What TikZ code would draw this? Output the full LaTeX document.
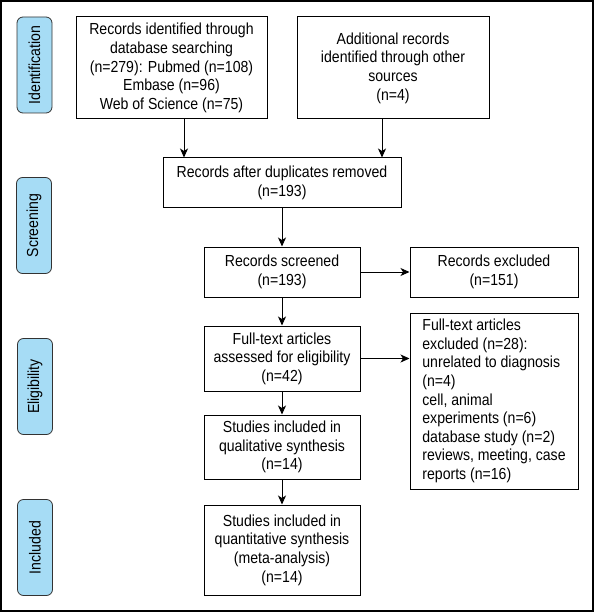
\documentclass[tikz,border=0pt]{standalone}
\usepackage{fontspec}
\setmainfont{Liberation Sans}[FakeStretch=0.88]
\usepackage{tikz}
\usetikzlibrary{arrows.meta}
\definecolor{stageblue}{RGB}{166,220,245}
\tikzset{
box/.style={draw, line width=1pt, align=center, inner sep=2pt,
  font=\fontsize{16}{18.6}\selectfont},
stage/.style={draw=black!80, fill=stageblue, rounded corners=6pt, line width=0.8pt,
  rotate=90, minimum width=96pt, minimum height=35pt, inner sep=0pt,
  font=\fontsize{16}{18}\selectfont},
arr/.style={line width=1pt, -{Stealth[length=9pt,width=8pt,inset=2.5pt]}}}

\begin{document}
\begin{tikzpicture}[x=1pt, y=-1pt]

    \useasboundingbox (0,0) rectangle (594,612);
    \draw[line width=1.5pt] (1,1) rectangle (593,611);

    % stages
    \node[stage] (ident) at (34.5,65) {Identification};
    \node[stage] (screen) at (34,225.5) {Screening};
    \node[stage] (elig) at (35,386.5) {Eligibility};
    \node[stage] (incl) at (35,547.5) {Included};

    % boxes
    \node[box, minimum width=191pt, minimum height=102pt] (dbase) at (171.5,68)
        {Records identified through\\database searching\\(n=279): Pubmed (n=108)\\Embase (n=96)\\Web of Science (n=75)};
    \node[box, minimum width=192pt, minimum height=102pt] (other) at (393,68)
        {Additional records\\identified through other\\sources\\(n=4)};
    \node[box, minimum width=238pt, minimum height=50pt] (dup) at (282,183)
        {Records after duplicates removed\\(n=193)};
    \node[box, minimum width=156pt, minimum height=50pt] (screened) at (282,272)
        {Records screened\\(n=193)};
    \node[box, minimum width=168pt, minimum height=50pt] (excl) at (494,272)
        {Records excluded\\(n=151)};
    \node[box, minimum width=156pt, minimum height=65pt] (full) at (282,358.5)
        {Full-text articles\\assessed for eligibility\\(n=42)};
    \node[box, align=left, minimum width=168pt, minimum height=176pt] (fullexcl) at (494,401)
        {Full-text articles\\excluded (n=28):\\unrelated to diagnosis\\(n=4)\\cell, animal\\experiments (n=6)\\database study (n=2)\\reviews, meeting, case\\reports (n=16)};
    \node[box, minimum width=156pt, minimum height=64pt] (qual) at (282,447)
        {Studies included in\\qualitative synthesis\\(n=14)};
    \node[box, minimum width=156pt, minimum height=90pt] (quant) at (282,550)
        {Studies included in\\quantitative synthesis\\(meta-analysis)\\(n=14)};

    % arrows
    \draw[arr] ([xshift=12.5pt]dbase.south) -- ([xshift=12.5pt]dbase.south |- dup.north);
    \draw[arr] ([xshift=-11pt]other.south) -- ([xshift=-11pt]other.south |- dup.north);
    \draw[arr] (dup) -- (screened);
    \draw[arr] (screened) -- (excl);
    \draw[arr] (screened) -- (full);
    \draw[arr] (full.east) -- (full.east -| fullexcl.west);
    \draw[arr] (full) -- (qual);
    \draw[arr] (qual) -- (quant);

\end{tikzpicture}
\end{document}
